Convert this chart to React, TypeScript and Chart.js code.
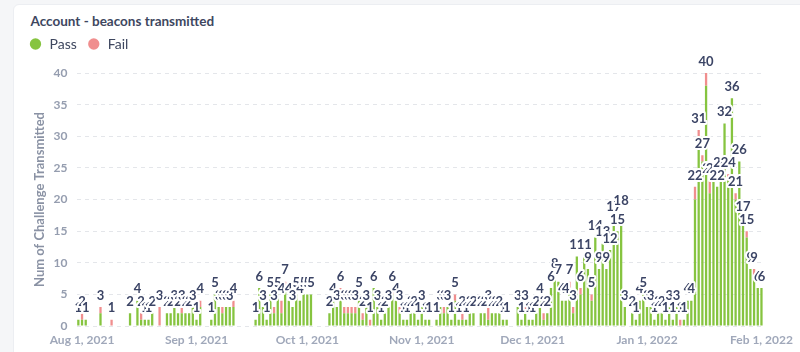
import React, { useEffect, useRef } from "react";
import { Chart, registerables } from "chart.js";

Chart.register(...registerables);

// Daily series, first bar = Jul 31, 2021
const startYear = 2021;
const startMonth = 6; // July (0-based)
const startDay = 31;

const pass = [
  1, 1, 1, 0, 0, 0, 2, 0, 0, 0,
  0, 0, 0, 0, 2, 0, 4, 1, 1, 1,
  2, 0, 0, 0, 2, 2, 3, 2, 2, 2,
  2, 3, 1, 3, 0, 0, 1, 5, 3, 2,
  3, 3, 3, 0, 0, 0, 0, 0, 1, 6,
  3, 1, 5, 2, 5, 2, 6, 4, 3, 5,
  4, 5, 5, 5, 0, 0, 0, 0, 2, 4,
  3, 5, 2, 2, 2, 2, 5, 1, 3, 0,
  6, 3, 1, 2, 3, 5, 4, 2, 1, 1,
  2, 2, 1, 3, 1, 1, 0, 1, 3, 2,
  3, 1, 4, 1, 1, 1, 2, 2, 0, 2,
  2, 1, 2, 2, 2, 1, 1, 0, 0, 3,
  1, 2, 1, 1, 2, 4, 1, 2, 6, 8,
  7, 4, 4, 6, 2, 11, 5, 11, 9, 4,
  14, 9, 13, 9, 12, 17, 15, 18, 3, 0,
  2, 1, 4, 5, 3, 3, 1, 2, 2, 1,
  3, 1, 3, 0, 1, 4, 4, 20, 30, 26,
  38, 21, 23, 22, 23, 32, 23, 36, 20, 26,
  17, 14, 9, 8, 6, 6,
];

const fail = [
  0, 1, 0, 0, 0, 0, 1, 0, 0, 1,
  0, 0, 0, 0, 0, 0, 0, 1, 0, 0,
  0, 0, 3, 0, 0, 0, 0, 0, 1, 0,
  0, 0, 0, 1, 0, 0, 0, 0, 0, 1,
  0, 0, 1, 0, 0, 0, 0, 0, 0, 0,
  0, 0, 0, 1, 0, 2, 1, 0, 0, 0,
  0, 0, 0, 0, 0, 0, 0, 0, 0, 0,
  0, 1, 1, 1, 1, 1, 0, 1, 0, 1,
  0, 0, 0, 0, 0, 1, 0, 1, 0, 0,
  0, 0, 0, 0, 0, 0, 0, 0, 0, 1,
  0, 0, 1, 0, 1, 0, 0, 0, 0, 0,
  0, 2, 0, 0, 0, 0, 0, 0, 0, 0,
  0, 1, 0, 0, 0, 0, 1, 0, 0, 0,
  0, 0, 0, 1, 1, 0, 1, 0, 0, 1,
  0, 0, 0, 0, 0, 0, 0, 0, 0, 0,
  0, 0, 0, 0, 0, 0, 0, 0, 0, 0,
  0, 0, 0, 1, 0, 0, 0, 2, 1, 1,
  2, 2, 0, 0, 1, 0, 1, 0, 1, 0,
  0, 1, 0, 1, 0, 0,
];

const tickLabels = [
  "Aug 1, 2021",
  "Sep 1, 2021",
  "Oct 1, 2021",
  "Nov 1, 2021",
  "Dec 1, 2021",
  "Jan 1, 2022",
  "Feb 1, 2022",
];

const MONTHS = ["Jan", "Feb", "Mar", "Apr", "May", "Jun", "Jul", "Aug", "Sep", "Oct", "Nov", "Dec"];

const categories = pass.map((_, i) => {
  const d = new Date(Date.UTC(startYear, startMonth, startDay + i));
  return `${MONTHS[d.getUTCMonth()]} ${d.getUTCDate()}, ${d.getUTCFullYear()}`;
});

const PASS_COLOR = "#86c440";
const FAIL_COLOR = "#f08e8e";
const DARK = "#3e475f";

const totalsPlugin = {
  id: "totals",
  afterDatasetsDraw(chart: any) {
    const ctx = chart.ctx;
    const meta = chart.getDatasetMeta(0);
    const yScale = chart.scales.y;
    ctx.save();
    ctx.font = "bold 13px Lato";
    ctx.textAlign = "center";
    ctx.textBaseline = "middle";
    ctx.lineJoin = "round";
    ctx.lineWidth = 4;
    ctx.strokeStyle = "#ffffff";
    ctx.fillStyle = "#3b4465";
    pass.forEach((p, i) => {
      const total = p + fail[i];
      if (!total) return;
      const el = meta.data[i];
      if (!el) return;
      const x = el.x;
      const y = yScale.getPixelForValue(total) - 11.5;
      ctx.strokeText(String(total), x, y);
      ctx.fillText(String(total), x, y);
    });
    ctx.restore();
  },
};

const legendSpacer = {
  id: "legendSpacer",
  beforeLayout(chart: any) {
    const lg = chart.legend;
    if (lg && !lg.__spaced) {
      const orig = lg.fit;
      lg.fit = function () {
        orig.call(this);
        this.height += 12;
      };
      lg.__spaced = true;
    }
  },
};

export default function App() {
  const canvasRef = useRef<HTMLCanvasElement | null>(null);

  useEffect(() => {
    document.body.style.margin = "0";
    const canvas = canvasRef.current;
    if (!canvas) return;
    const chart = new Chart(canvas, {
      type: "bar",
      data: {
        labels: categories,
        datasets: [
          {
            label: "Pass",
            data: pass,
            backgroundColor: PASS_COLOR,
            borderWidth: 0,
            barPercentage: 1,
            categoryPercentage: 0.62,
          },
          {
            label: "Fail",
            data: fail,
            backgroundColor: FAIL_COLOR,
            borderWidth: 0,
            barPercentage: 1,
            categoryPercentage: 0.62,
          },
        ],
      },
      options: {
        animation: false,
        responsive: false,
        layout: { padding: { left: 18.5, right: 30.5, top: 27, bottom: 0 } },
        plugins: {
          title: { display: false },
          tooltip: { enabled: false },
          legend: {
            display: true,
            position: "top",
            align: "start",
            labels: {
              usePointStyle: true,
              pointStyle: "circle",
              boxWidth: 14,
              boxHeight: 8,
              padding: 10,
              color: DARK,
              font: { family: "Lato", size: 14 },
            },
          },
        },
        scales: {
          x: {
            stacked: true,
            grid: { display: false, drawTicks: false },
            border: { display: false },
            afterFit(scale: any) {
              scale.height = 26;
            },
            ticks: {
              autoSkip: false,
              maxRotation: 0,
              minRotation: 0,
              padding: 7,
              color: "#a0a8ba",
              font: { family: "Lato", size: 12, weight: "bold" },
              callback(value: any) {
                const lbl = categories[value as number];
                return tickLabels.includes(lbl) ? lbl : null;
              },
            },
          },
          y: {
            stacked: true,
            min: 0,
            max: 40,
            afterFit(scale: any) {
              scale.width = 58;
            },
            grid: { color: "#e4e6ea", drawTicks: false, lineWidth: 1 },
            border: { display: false, dash: [4, 4] },
            ticks: {
              stepSize: 5,
              padding: 9,
              color: "#959daf",
              font: { family: "Lato", size: 12, weight: "bold" },
            },
            title: {
              display: true,
              text: "Num of Challenge Transmitted",
              color: "#8a92a4",
              font: { family: "Lato", size: 13, weight: "bold" },
              padding: { top: 13.7, bottom: 0 },
            },
          },
        },
      },
      plugins: [totalsPlugin, legendSpacer],
    });
    return () => chart.destroy();
  }, []);

  return (
    <div style={{ position: "relative", width: 800, height: 352, background: "#f5f6f8", overflow: "hidden" }}>
      <div
        style={{
          position: "absolute",
          left: 13,
          top: 4,
          width: 800,
          height: 370,
          background: "#ffffff",
          border: "1px solid #eceef2",
          borderRadius: 6,
          boxSizing: "border-box",
        }}
      />
      <div
        style={{
          position: "absolute",
          left: 30.5,
          top: 13,
          font: "bold 13.5px Lato",
          lineHeight: "16px",
          color: DARK,
          whiteSpace: "nowrap",
        }}
      >
        Account - beacons transmitted
      </div>
      <canvas
        ref={canvasRef}
        width={800}
        height={352}
        style={{ position: "absolute", left: 0, top: 0, width: 800, height: 352 }}
      />
    </div>
  );
}
